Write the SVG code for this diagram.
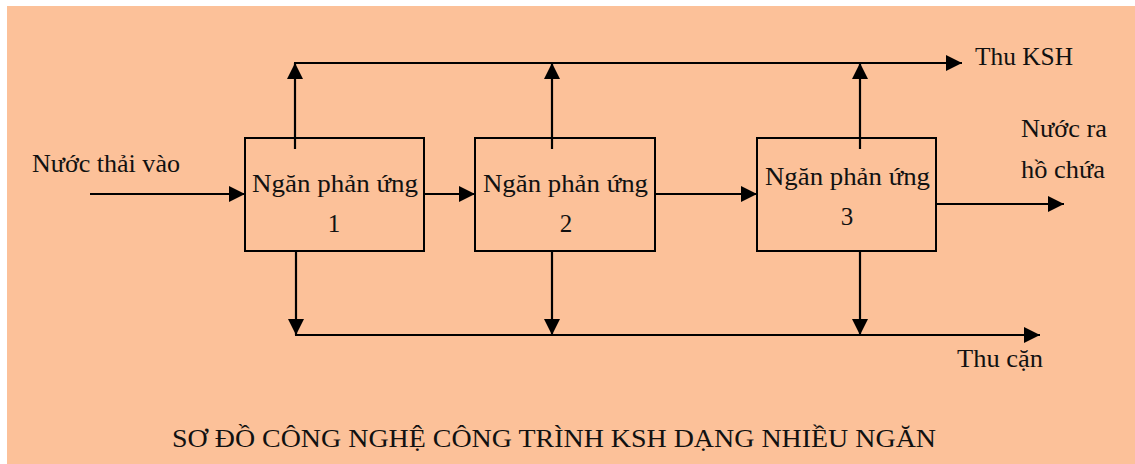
<svg xmlns="http://www.w3.org/2000/svg" width="1135" height="464" viewBox="0 0 1135 464" font-family="'Liberation Serif', 'Times New Roman', Times, 'DejaVu Serif', serif">
  <defs>
    <style>
      .bg { fill: #fcc199; }
      .box { fill: none; stroke: #000; stroke-width: 2; }
      .flow { fill: none; stroke: #000; stroke-width: 2.2; }
      .lbl { font-size: 25px; fill: #111; }
      .mid { text-anchor: middle; }
      .title { font-size: 26px; fill: #111; }
    </style>
    <marker id="arrow" viewBox="0 0 16 16" refX="16" refY="8" markerWidth="16" markerHeight="16" markerUnits="userSpaceOnUse" orient="auto">
      <path d="M0,0 L16,8 L0,16 z" fill="#000"/>
    </marker>
  </defs>

  <rect width="1135" height="464" fill="#ffffff"/>
  <rect class="bg" x="7" y="6" width="1128" height="458"/>

  <!-- reaction chambers -->
  <g id="chamber1">
    <rect class="box" x="245" y="138" width="179" height="113"/>
    <text class="lbl mid" x="335" y="192" textLength="166" lengthAdjust="spacingAndGlyphs">Ngăn phản ứng</text>
    <text class="lbl mid" x="334" y="232">1</text>
  </g>
  <g id="chamber2">
    <rect class="box" x="475" y="138" width="180" height="113"/>
    <text class="lbl mid" x="565.5" y="192" textLength="165" lengthAdjust="spacingAndGlyphs">Ngăn phản ứng</text>
    <text class="lbl mid" x="566" y="232">2</text>
  </g>
  <g id="chamber3">
    <rect class="box" x="757" y="138" width="179" height="113"/>
    <text class="lbl mid" x="847.5" y="185" textLength="165" lengthAdjust="spacingAndGlyphs">Ngăn phản ứng</text>
    <text class="lbl mid" x="847" y="225">3</text>
  </g>

  <!-- flows -->
  <g id="connectors">
    <!-- inlet and between chambers -->
    <line class="flow" x1="90" y1="194" x2="245" y2="194" marker-end="url(#arrow)"/>
    <line class="flow" x1="424" y1="194" x2="475" y2="194" marker-end="url(#arrow)"/>
    <line class="flow" x1="655" y1="194" x2="757" y2="194" marker-end="url(#arrow)"/>
    <line class="flow" x1="936" y1="204" x2="1064" y2="204" marker-end="url(#arrow)"/>

    <!-- biogas collection header -->
    <line class="flow" x1="295" y1="149" x2="295" y2="63" marker-end="url(#arrow)"/>
    <line class="flow" x1="552" y1="149" x2="552" y2="63" marker-end="url(#arrow)"/>
    <line class="flow" x1="860" y1="149" x2="860" y2="63" marker-end="url(#arrow)"/>
    <line class="flow" x1="294" y1="63" x2="962" y2="63" marker-end="url(#arrow)"/>

    <!-- sludge collection header -->
    <line class="flow" x1="296" y1="250" x2="296" y2="335" marker-end="url(#arrow)"/>
    <line class="flow" x1="552" y1="250" x2="552" y2="335" marker-end="url(#arrow)"/>
    <line class="flow" x1="860" y1="250" x2="860" y2="335" marker-end="url(#arrow)"/>
    <line class="flow" x1="295" y1="335" x2="1040" y2="335" marker-end="url(#arrow)"/>
  </g>

  <!-- flow labels -->
  <g id="labels">
    <text class="lbl" x="32" y="172" textLength="148" lengthAdjust="spacingAndGlyphs">Nước thải vào</text>
    <text class="lbl" x="975" y="65" textLength="98" lengthAdjust="spacingAndGlyphs">Thu KSH</text>
    <text class="lbl" x="1021" y="137" textLength="86" lengthAdjust="spacingAndGlyphs">Nước ra</text>
    <text class="lbl" x="1021" y="178" textLength="84" lengthAdjust="spacingAndGlyphs">hồ chứa</text>
    <text class="lbl" x="957" y="367" textLength="86" lengthAdjust="spacingAndGlyphs">Thu cặn</text>
  </g>

  <text class="title" x="172" y="447" textLength="764" lengthAdjust="spacingAndGlyphs">SƠ ĐỒ CÔNG NGHỆ CÔNG TRÌNH KSH DẠNG NHIỀU NGĂN</text>
</svg>
